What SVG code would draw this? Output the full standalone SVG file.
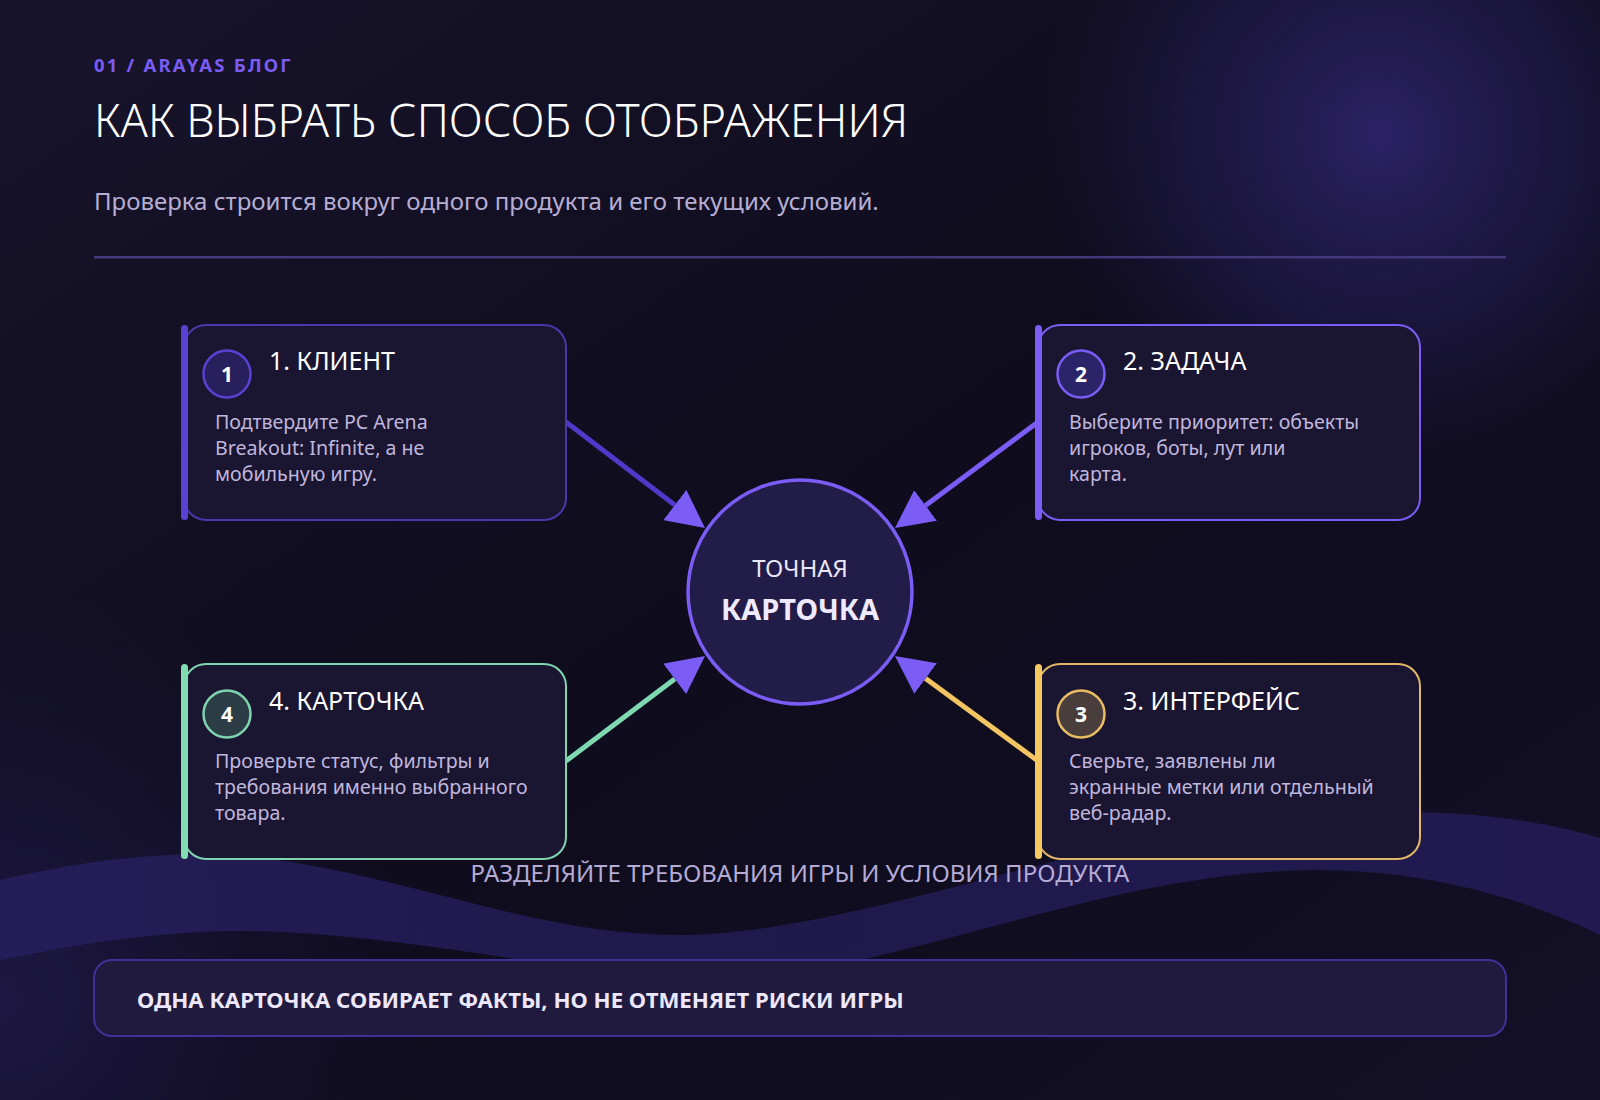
<svg xmlns="http://www.w3.org/2000/svg" width="1600" height="1100" viewBox="0 0 1600 1100">
  <defs>
    <linearGradient id="bg" x1="0" y1="0" x2="1" y2="1">
      <stop offset="0" stop-color="#17142c"/>
      <stop offset="0.5" stop-color="#0f0c1d"/>
      <stop offset="1" stop-color="#130f26"/>
    </linearGradient>
    <radialGradient id="glow" cx="1380" cy="135" r="340" gradientUnits="userSpaceOnUse">
      <stop offset="0" stop-color="#2c2266"/>
      <stop offset="0.6" stop-color="#201a4a" stop-opacity="0.6"/>
      <stop offset="1" stop-color="#1a1540" stop-opacity="0"/>
    </radialGradient>
    <radialGradient id="glow2" cx="0" cy="1000" r="420" gradientUnits="userSpaceOnUse">
      <stop offset="0" stop-color="#221b4c" stop-opacity="0.8"/>
      <stop offset="1" stop-color="#1a1540" stop-opacity="0"/>
    </radialGradient>
    <linearGradient id="wave" x1="0" y1="0" x2="1" y2="0">
      <stop offset="0" stop-color="#261e5c"/>
      <stop offset="0.5" stop-color="#211a50"/>
      <stop offset="1" stop-color="#231b55"/>
    </linearGradient>
    <marker id="head" viewBox="0 0 10 10" refX="0" refY="5" markerUnits="userSpaceOnUse" markerWidth="38" markerHeight="38" orient="auto">
      <path d="M0,0 L10,5 L0,10 Z" fill="#7b5cf5"/>
    </marker>
    <style>
      .card { fill: #1a1530; stroke-width: 2; }
      .num { font-family: "Noto Sans", "Open Sans", sans-serif; font-weight: 700; font-size: 21px; fill: #ffffff; text-anchor: middle; }
      .ttl { font-family: "Noto Sans", "Open Sans", sans-serif; font-size: 25px; fill: #ffffff; }
      .body { font-family: "Noto Sans", "Open Sans", sans-serif; font-size: 19.6px; fill: #c0b7de; }
      .conn { fill: none; stroke-width: 5; stroke-linecap: butt; }
    </style>
  </defs>

  <rect x="0" y="0" width="1600" height="1100" fill="url(#bg)"/>
  <rect x="0" y="0" width="1600" height="1100" fill="url(#glow)"/>
  <rect x="0" y="600" width="800" height="500" fill="url(#glow2)"/>
  <path d="M0,880 C80,862 150,852 220,855 C380,862 520,935 680,935 C850,935 1100,830 1300,815 C1450,805 1540,820 1600,838 L1600,935 C1560,915 1450,868 1310,870 C1150,872 1000,930 850,962 L560,965 C480,955 320,925 200,932 C120,936 50,950 0,960 Z" fill="url(#wave)" opacity="0.9"/>

  <g id="header">
    <text x="94" y="72" font-family="Noto Sans, Open Sans, sans-serif" font-weight="700" font-size="18.5" letter-spacing="2.2" fill="#7b5cf5">01 / ARAYAS БЛОГ</text>
    <text x="94" y="137" font-family="Noto Sans, Open Sans, sans-serif" font-weight="300" font-size="45" fill="#ffffff">КАК ВЫБРАТЬ СПОСОБ ОТОБРАЖЕНИЯ</text>
    <text x="94" y="210" font-family="Noto Sans, Open Sans, sans-serif" font-size="24" fill="#b7aed4">Проверка строится вокруг одного продукта и его текущих условий.</text>
    <rect x="94" y="256" width="1412" height="2.5" fill="#43397a"/>
  </g>

  <g id="connectors">
    <line class="conn" x1="566" y1="422" x2="674.8" y2="505" stroke="#5038c8" marker-end="url(#head)"/>
    <line class="conn" x1="1038" y1="422" x2="925.5" y2="505.4" stroke="#7b5cf5" marker-end="url(#head)"/>
    <line class="conn" x1="566" y1="761" x2="674.7" y2="678.9" stroke="#7ed8b2" marker-end="url(#head)"/>
    <line class="conn" x1="1038" y1="761" x2="925.6" y2="678.5" stroke="#f2c462" marker-end="url(#head)"/>
  </g>

  <g id="node-1">
    <rect class="card" x="184" y="325" width="382" height="195" rx="22" stroke="#4b37ac"/>
    <rect x="181" y="325" width="7" height="195" rx="3.5" fill="#5b40d4"/>
    <circle cx="227" cy="374" r="23.5" fill="#28205c" stroke="#5b40d4" stroke-width="2.5"/>
    <text class="num" x="227" y="382">1</text>
    <text class="ttl" x="269" y="370">1. КЛИЕНТ</text>
    <text class="body" x="215" y="429">Подтвердите PC Arena</text>
    <text class="body" x="215" y="455">Breakout: Infinite, а не</text>
    <text class="body" x="215" y="481">мобильную игру.</text>
  </g>

  <g id="node-2">
    <rect class="card" x="1038" y="325" width="382" height="195" rx="22" stroke="#7b5cf5"/>
    <rect x="1035" y="325" width="7" height="195" rx="3.5" fill="#7b5cf5"/>
    <circle cx="1081" cy="374" r="23.5" fill="#2c2468" stroke="#7b5cf5" stroke-width="2.5"/>
    <text class="num" x="1081" y="382">2</text>
    <text class="ttl" x="1123" y="370">2. ЗАДАЧА</text>
    <text class="body" x="1069" y="429">Выберите приоритет: объекты</text>
    <text class="body" x="1069" y="455">игроков, боты, лут или</text>
    <text class="body" x="1069" y="481">карта.</text>
  </g>

  <g id="node-3">
    <rect class="card" x="1038" y="664" width="382" height="195" rx="22" stroke="#e2b868"/>
    <rect x="1035" y="664" width="7" height="195" rx="3.5" fill="#f5c862"/>
    <circle cx="1081" cy="714" r="23.5" fill="#4a3e3c" stroke="#e8bc62" stroke-width="2.5"/>
    <text class="num" x="1081" y="722">3</text>
    <text class="ttl" x="1123" y="710">3. ИНТЕРФЕЙС</text>
    <text class="body" x="1069" y="768">Сверьте, заявлены ли</text>
    <text class="body" x="1069" y="794">экранные метки или отдельный</text>
    <text class="body" x="1069" y="820">веб-радар.</text>
  </g>

  <g id="node-4">
    <rect class="card" x="184" y="664" width="382" height="195" rx="22" stroke="#7ed4ae"/>
    <rect x="181" y="664" width="7" height="195" rx="3.5" fill="#82dcb2"/>
    <circle cx="227" cy="714" r="23.5" fill="#2c3d45" stroke="#7ed4ae" stroke-width="2.5"/>
    <text class="num" x="227" y="722">4</text>
    <text class="ttl" x="269" y="710">4. КАРТОЧКА</text>
    <text class="body" x="215" y="768">Проверьте статус, фильтры и</text>
    <text class="body" x="215" y="794">требования именно выбранного</text>
    <text class="body" x="215" y="820">товара.</text>
  </g>

  <g id="center">
    <circle cx="800" cy="592" r="112" fill="#221c48" stroke="#7b5cf5" stroke-width="3.5"/>
    <text x="800" y="577" text-anchor="middle" font-family="Noto Sans, Open Sans, sans-serif" font-size="24" fill="#ebe6f8">ТОЧНАЯ</text>
    <text x="800" y="620" text-anchor="middle" font-family="Noto Sans, Open Sans, sans-serif" font-weight="700" font-size="29" fill="#efeaff">КАРТОЧКА</text>
  </g>

  <g id="footer-label">
    <text x="800" y="882" text-anchor="middle" font-family="Noto Sans, Open Sans, sans-serif" font-size="24" fill="#b5acd6">РАЗДЕЛЯЙТЕ ТРЕБОВАНИЯ ИГРЫ И УСЛОВИЯ ПРОДУКТА</text>
  </g>

  <g id="callout">
    <rect x="94" y="960" width="1412" height="76" rx="18" fill="#201a3f" stroke="#3f3196" stroke-width="2"/>
    <text x="137" y="1008" font-family="Noto Sans, Open Sans, sans-serif" font-weight="700" font-size="22.2" fill="#ece7fb">ОДНА КАРТОЧКА СОБИРАЕТ ФАКТЫ, НО НЕ ОТМЕНЯЕТ РИСКИ ИГРЫ</text>
  </g>
</svg>
